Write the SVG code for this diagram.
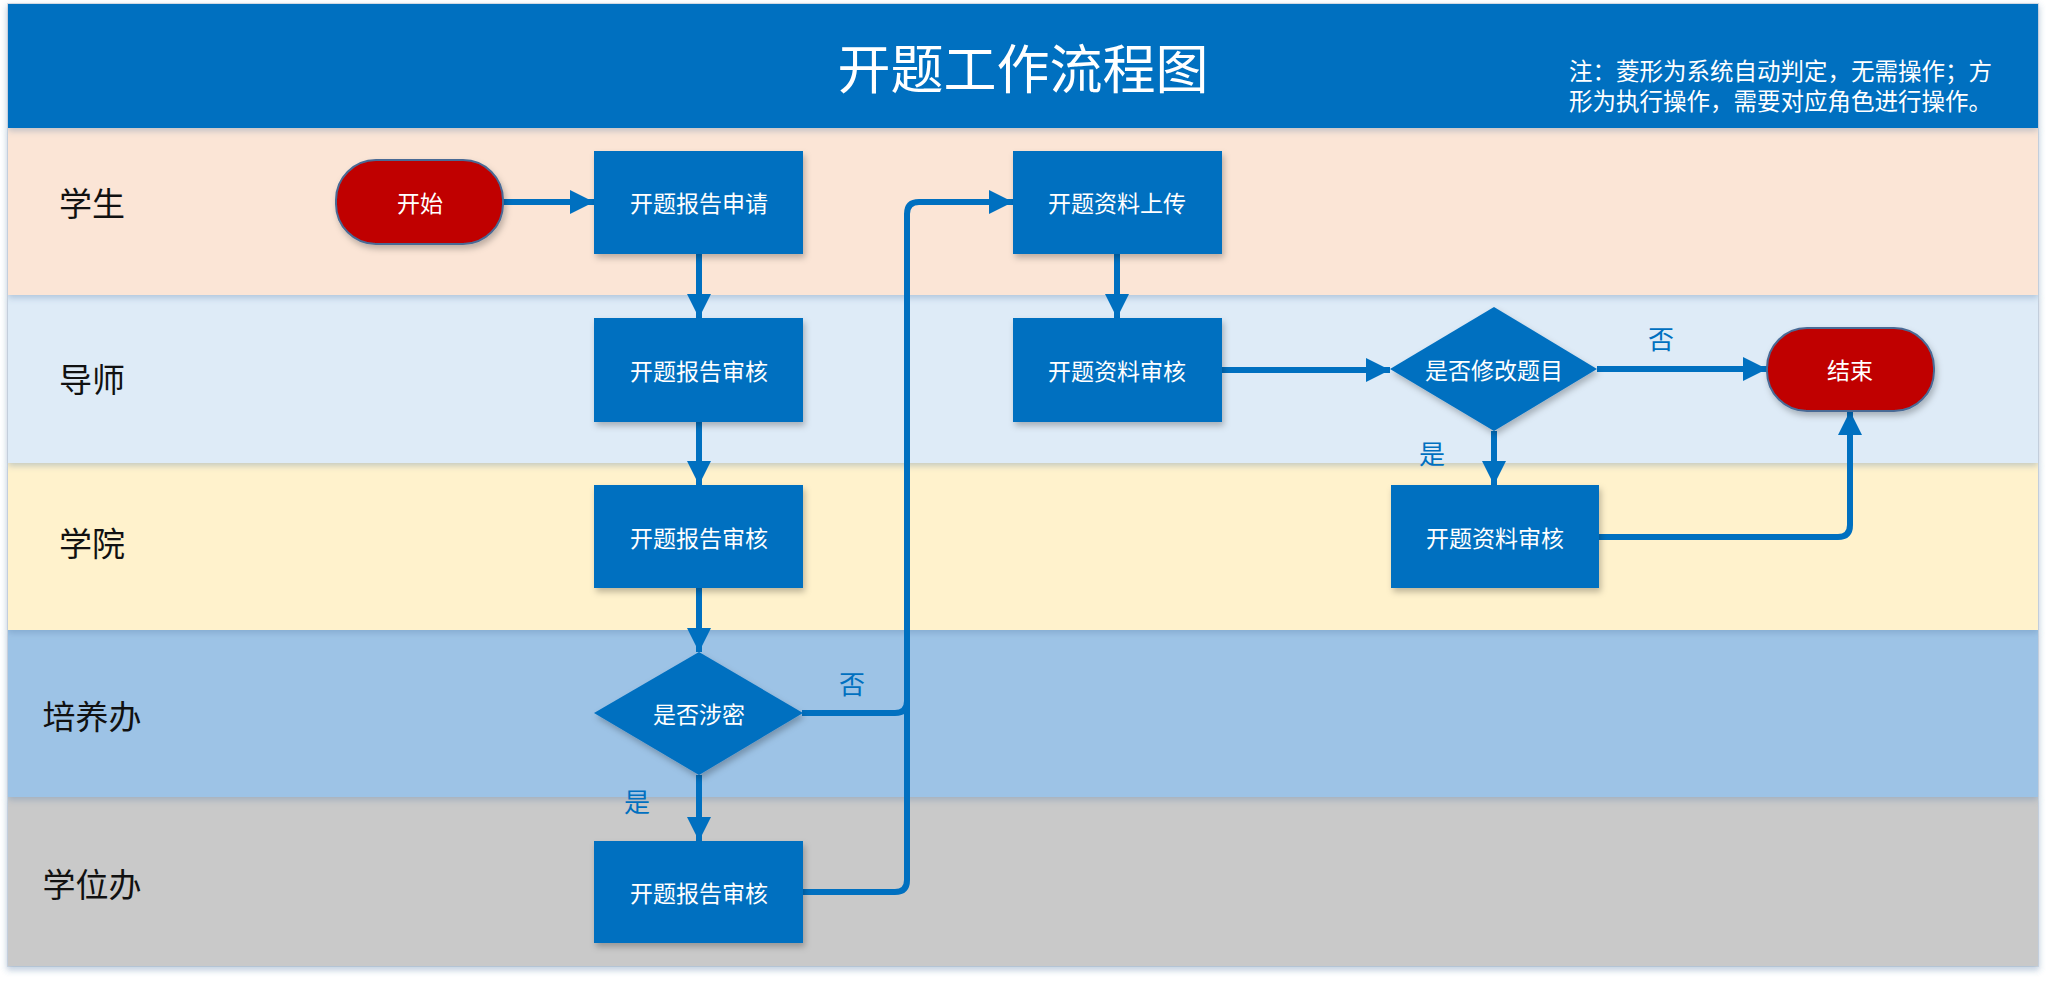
<svg xmlns="http://www.w3.org/2000/svg" width="2048" height="981" viewBox="0 0 2048 981">
<style>
.lane-label{font-family:"Noto Sans CJK SC","Noto Sans",sans-serif;font-size:33px;fill:#111;text-anchor:middle;dominant-baseline:central}
.ntext{font-family:"Noto Sans CJK SC","Noto Sans",sans-serif;font-size:23px;fill:#fff;text-anchor:middle;dominant-baseline:central}
.box{fill:#0070C0;filter:url(#sh)}
.term{fill:#C00000;stroke:#4A6A95;stroke-width:2;filter:url(#sh)}
.conn{fill:none;stroke:#0070C0;stroke-width:6}
.elabel{font-family:"Noto Sans CJK SC","Noto Sans",sans-serif;font-size:26px;fill:#0070C0;text-anchor:middle;dominant-baseline:central}
</style>
<defs>
<filter id="sh" x="-10%" y="-10%" width="130%" height="140%">
<feDropShadow dx="2" dy="4" stdDeviation="3" flood-color="#000" flood-opacity="0.25"/>
</filter>
<filter id="lsh" x="-2%" y="-10%" width="104%" height="130%">
<feDropShadow dx="0" dy="3" stdDeviation="3" flood-color="#5a7fa8" flood-opacity="0.35"/>
</filter>
<marker id="ah" viewBox="0 0 10 10" refX="10" refY="5" markerWidth="4" markerHeight="4" markerUnits="strokeWidth" orient="auto">
<path d="M0,0 L10,5 L0,10 z" fill="#0070C0"/>
</marker>
</defs>
<rect x="0" y="0" width="2048" height="981" fill="#fff"/>
<g id="frame">
<rect x="8" y="4" width="2030" height="962" fill="none" stroke="#d6dde6" stroke-width="2" filter="url(#lsh)"/>
</g>
<g id="lanes">
<rect x="8" y="797" width="2030" height="169" fill="#C9C9C9" filter="url(#lsh)"/>
<rect x="8" y="630" width="2030" height="167" fill="#9DC3E6" filter="url(#lsh)"/>
<rect x="8" y="463" width="2030" height="167" fill="#FFF2CC" filter="url(#lsh)"/>
<rect x="8" y="295" width="2030" height="168" fill="#DEEBF7" filter="url(#lsh)"/>
<rect x="8" y="128" width="2030" height="167" fill="#FBE5D6" filter="url(#lsh)"/>
<text class="lane-label" x="92" y="202">学生</text>
<text class="lane-label" x="92" y="378">导师</text>
<text class="lane-label" x="92" y="542">学院</text>
<text class="lane-label" x="92" y="715">培养办</text>
<text class="lane-label" x="92" y="883">学位办</text>
</g>
<g id="header">
<rect x="8" y="4" width="2030" height="124" fill="#0070C0" filter="url(#lsh)"/>
<text x="1023" y="66" font-family="'Noto Sans CJK SC','Noto Sans',sans-serif" font-size="53" fill="#fff" text-anchor="middle" dominant-baseline="central">开题工作流程图</text>
<text x="1569" y="80" font-family="'Noto Sans CJK SC','Noto Sans',sans-serif" font-size="23.5" fill="#fff">注：菱形为系统自动判定，无需操作；方</text>
<text x="1569" y="110" font-family="'Noto Sans CJK SC','Noto Sans',sans-serif" font-size="23.5" fill="#fff">形为执行操作，需要对应角色进行操作。</text>
</g>
<g id="connectors">
<path class="conn" d="M503,202 H594" marker-end="url(#ah)"/>
<path class="conn" d="M699,254 V318" marker-end="url(#ah)"/>
<path class="conn" d="M699,422 V485" marker-end="url(#ah)"/>
<path class="conn" d="M699,588 V652" marker-end="url(#ah)"/>
<path class="conn" d="M699,775 V841" marker-end="url(#ah)"/>
<path class="conn" d="M803,892 H895 Q907,892 907,880 V214 Q907,202 919,202 H1013" marker-end="url(#ah)"/>
<path class="conn" d="M802,713 H895 Q907,713 907,701"/>
<path class="conn" d="M1117,254 V318" marker-end="url(#ah)"/>
<path class="conn" d="M1222,370 H1390" marker-end="url(#ah)"/>
<path class="conn" d="M1597,369 H1767" marker-end="url(#ah)"/>
<path class="conn" d="M1494,431 V485" marker-end="url(#ah)"/>
<path class="conn" d="M1599,537 H1838 Q1850,537 1850,525 V411" marker-end="url(#ah)"/>
<text class="elabel" x="852" y="682">否</text>
<text class="elabel" x="637" y="800">是</text>
<text class="elabel" x="1661" y="337">否</text>
<text class="elabel" x="1432" y="452">是</text>
</g>
<g id="start">
<rect class="term" x="336" y="160" width="167" height="84" rx="40" ry="40"/>
<text class="ntext" x="420" y="202">开始</text>
</g>
<g id="apply">
<rect class="box" x="594" y="151" width="209" height="103"/>
<text class="ntext" x="699" y="202">开题报告申请</text>
</g>
<g id="review-tutor">
<rect class="box" x="594" y="318" width="209" height="104"/>
<text class="ntext" x="699" y="370">开题报告审核</text>
</g>
<g id="review-college">
<rect class="box" x="594" y="485" width="209" height="103"/>
<text class="ntext" x="699" y="537">开题报告审核</text>
</g>
<g id="secret">
<polygon class="box" points="699,652 803,713 699,775 594,713"/>
<text class="ntext" x="699" y="713">是否涉密</text>
</g>
<g id="review-degree">
<rect class="box" x="594" y="841" width="209" height="102"/>
<text class="ntext" x="699" y="892">开题报告审核</text>
</g>
<g id="upload">
<rect class="box" x="1013" y="151" width="209" height="103"/>
<text class="ntext" x="1117" y="202">开题资料上传</text>
</g>
<g id="material-tutor">
<rect class="box" x="1013" y="318" width="209" height="104"/>
<text class="ntext" x="1117" y="370">开题资料审核</text>
</g>
<g id="modify">
<polygon class="box" points="1494,307 1597,369 1494,431 1390,369"/>
<text class="ntext" x="1494" y="369">是否修改题目</text>
</g>
<g id="material-college">
<rect class="box" x="1391" y="485" width="208" height="103"/>
<text class="ntext" x="1495" y="537">开题资料审核</text>
</g>
<g id="end">
<rect class="term" x="1767" y="328" width="167" height="83" rx="40" ry="40"/>
<text class="ntext" x="1850" y="369">结束</text>
</g>
</svg>
